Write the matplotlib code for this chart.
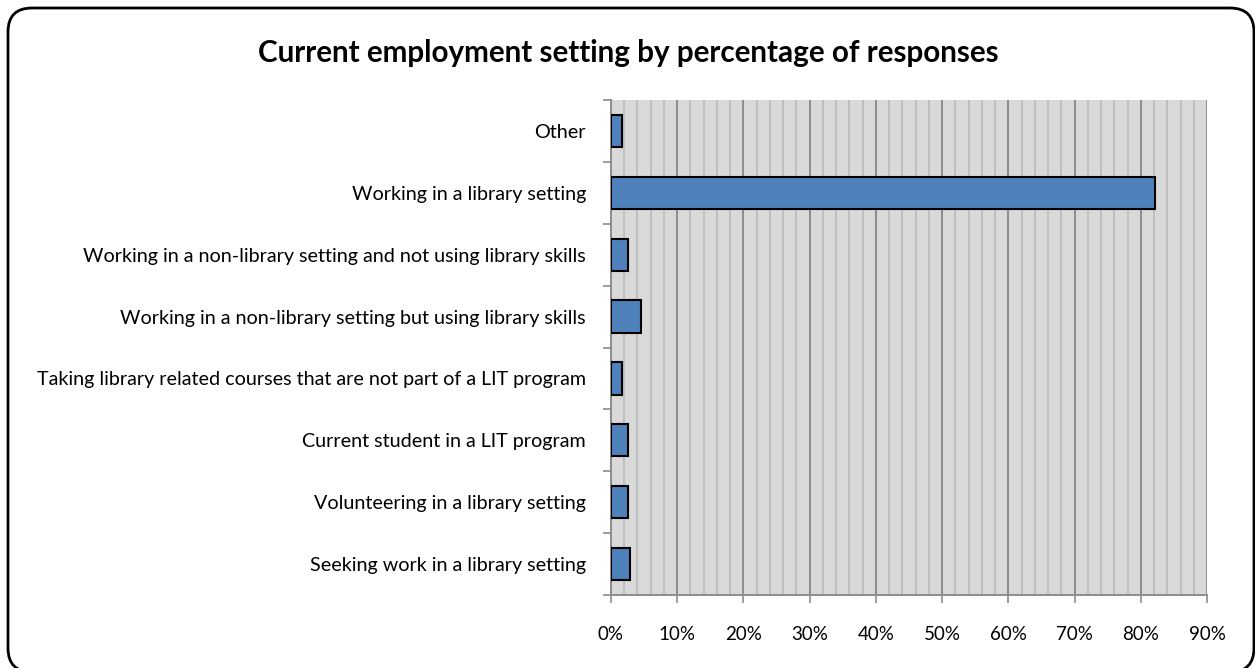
import matplotlib.pyplot as plt
from matplotlib.patches import FancyBboxPatch
from matplotlib.transforms import IdentityTransform
from matplotlib.ticker import MultipleLocator, FuncFormatter

plt.rcParams['font.family'] = ['Lato', 'DejaVu Sans']

categories = [
    "Seeking work in a library setting",
    "Volunteering in a library setting",
    "Current student in a LIT program",
    "Taking library related courses that are not part of a LIT program",
    "Working in a non-library setting but using library skills",
    "Working in a non-library setting and not using library skills",
    "Working in a library setting",
    "Other",
]
percent = [2.9, 2.5, 2.5, 1.7, 4.5, 2.5, 82.2, 1.7]

fig = plt.figure(figsize=(12.55, 6.68), dpi=100)
ax = fig.add_axes([611 / 1255, 1 - 595 / 668, 596 / 1255, 495 / 668])

# rounded frame round the whole chart (pixel units, runs off the right/bottom edge)
frame = FancyBboxPatch((8, -4), 1246, 664,
                       boxstyle="round,pad=0,rounding_size=24",
                       transform=IdentityTransform(), fill=False,
                       edgecolor='black', linewidth=2)
fig.patches.append(frame)

ax.set_facecolor('#D9D9D9')
ypos = range(len(categories))
ax.barh(ypos, percent, height=0.52, color='#4F81BD', edgecolor='black', linewidth=1.5, zorder=3)

ax.set_xlim(0, 90)
ax.set_ylim(-0.5, len(categories) - 0.5)
ax.xaxis.set_major_locator(MultipleLocator(10))
ax.xaxis.set_minor_locator(MultipleLocator(2))
ax.xaxis.set_major_formatter(FuncFormatter(lambda v, p: f"{v:.0f}%"))
ax.grid(axis='x', which='minor', color='#B8B8B8', linewidth=1.1, zorder=1)
ax.grid(axis='x', which='major', color='#8C8C8C', linewidth=1.4, zorder=2)
ax.set_axisbelow(True)

ax.set_yticks(list(ypos))
ax.set_yticklabels(categories, fontsize=14.2)
ax.set_yticks([i - 0.5 for i in range(len(categories) + 1)], minor=True)
ax.tick_params(axis='y', which='major', length=0, pad=18)
ax.tick_params(axis='y', which='minor', length=6, color='#8C8C8C', width=1.2, direction='out')
ax.tick_params(axis='x', which='major', length=6, color='#8C8C8C', width=1.2,
               direction='out', labelsize=13.5, pad=16)
ax.tick_params(axis='x', which='minor', length=0)

for side in ['top', 'right']:
    ax.spines[side].set_visible(False)
for side in ['left', 'bottom']:
    ax.spines[side].set_color('#8C8C8C')
    ax.spines[side].set_linewidth(1.4)

fig.text(628 / 1255, 1 - 53 / 668, "Current employment setting by percentage of responses",
         ha='center', va='center', fontsize=21.3, fontweight='bold')

fig.savefig("out.png", dpi=100)
